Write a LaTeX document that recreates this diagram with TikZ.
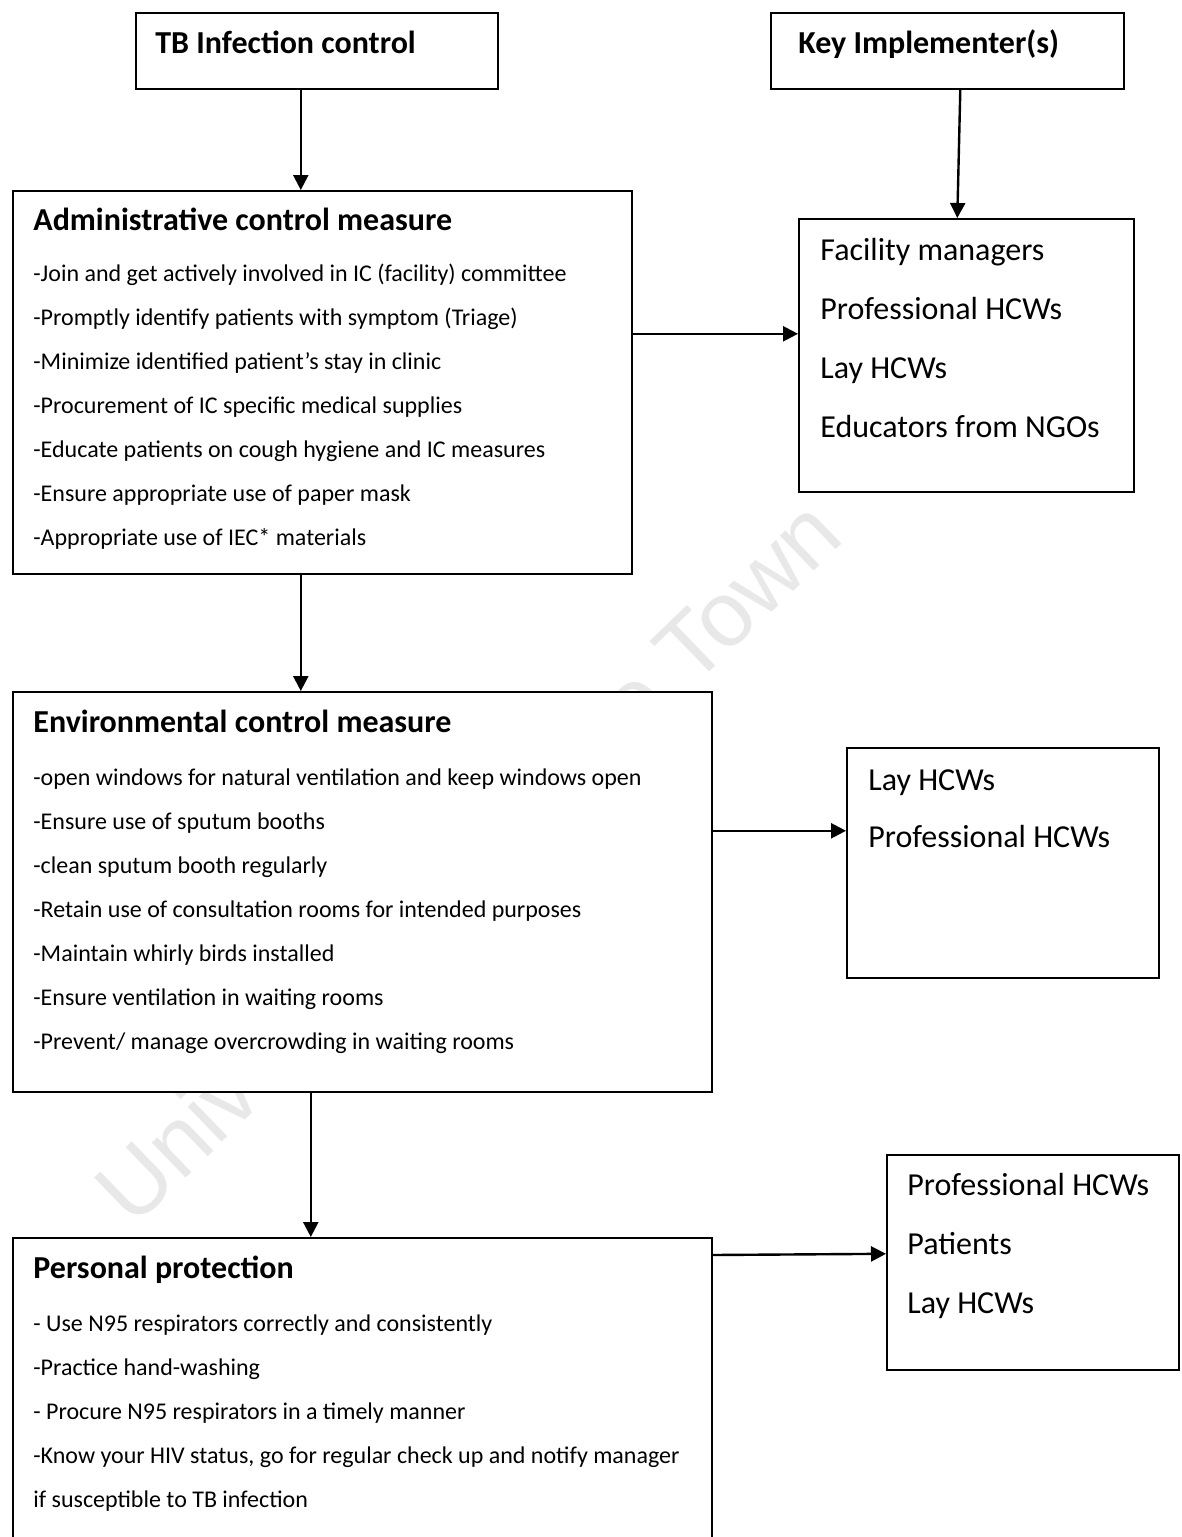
\documentclass[tikz,border=0pt]{standalone}
\usepackage{fontspec}
\setmainfont{Carlito}
\newfontfamily\wmfont{Liberation Sans}
\usetikzlibrary{arrows.meta}

\tikzset{
  box/.style={draw, fill=white, line width=0.8pt, anchor=north west, inner sep=0pt},
  arr/.style={-{Triangle[length=7.5pt,width=7.5pt]}, line width=1.2pt},
  head/.style={anchor=base west, inner sep=0pt, font=\fontsize{16}{19}\selectfont\bfseries},
  item/.style={anchor=base west, inner sep=0pt, font=\fontsize{12}{14}\selectfont},
  who/.style={anchor=base west, inner sep=0pt, font=\fontsize{16}{19}\selectfont},
  wmark/.style={text=black!9, inner sep=0pt, font=\wmfont\fontsize{46}{52}\selectfont}
}

\begin{document}
\begin{tikzpicture}[x=0.5pt, y=0.5pt]
  \clip (0,0) rectangle (1182,-1537);
  % watermark behind the boxes
  \node[wmark, anchor=base, rotate=44] (wm) at (490,-884) {University of Cape Town};

  % boxes
  \node[box, minimum width=181pt, minimum height=38pt] (tb) at (135,-12) {};
  \node[box, minimum width=176.5pt, minimum height=38pt] (ki) at (770,-12) {};
  \node[box, minimum width=309.5pt, minimum height=191.5pt] (adm) at (12,-190) {};
  \node[box, minimum width=167.5pt, minimum height=136.5pt] (fac) at (798,-218) {};
  \node[box, minimum width=349.5pt, minimum height=200pt] (env) at (12,-691) {};
  \node[box, minimum width=156pt, minimum height=115pt] (lay) at (846,-747) {};
  \node[box, minimum width=349.5pt, minimum height=170pt] (pers) at (12,-1237) {};
  \node[box, minimum width=146pt, minimum height=107.5pt] (pat) at (886,-1154) {};

  % titles
  \node[head] (tbt) at (155,-53) {TB Infection control};
  \node[head] (kit) at (798,-53) {Key Implementer(s)};

  % administrative
  \node[head] (admh) at (33,-230) {Administrative control measure};
  \foreach \t [count=\i from 0] in {
      {-Join and get actively involved in IC (facility) committee},
      {-Promptly identify patients with symptom (Triage)},
      {-Minimize identified patient’s stay in clinic},
      {-Procurement of IC specific medical supplies},
      {-Educate patients on cough hygiene and IC measures},
      {-Ensure appropriate use of paper mask},
      {-Appropriate use of IEC* materials}}
    \node[item] (adm\i) at (33,-281-44*\i) {\t};
  \foreach \t [count=\i from 0] in {Facility managers, Professional HCWs, Lay HCWs, Educators from NGOs}
    \node[who] (fac\i) at (820,-260-59*\i) {\t};

  % environmental
  \node[head] (envh) at (33,-732) {Environmental control measure};
  \foreach \t [count=\i from 0] in {
      {-open windows for natural ventilation and keep windows open},
      {-Ensure use of sputum booths},
      {-clean sputum booth regularly},
      {-Retain use of consultation rooms for intended purposes},
      {-Maintain whirly birds installed},
      {-Ensure ventilation in waiting rooms},
      {-Prevent/ manage overcrowding in waiting rooms}}
    \node[item] (env\i) at (33,-785-44*\i) {\t};
  \foreach \t [count=\i from 0] in {Lay HCWs, Professional HCWs}
    \node[who] (lay\i) at (868,-790-57*\i) {\t};

  % personal
  \node[head] (persh) at (33,-1278) {Personal protection};
  \foreach \t [count=\i from 0] in {
      {- Use N95 respirators correctly and consistently},
      {-Practice hand-washing},
      {- Procure N95 respirators in a timely manner},
      {-Know your HIV status, go for regular check up and notify manager},
      {if susceptible to TB infection}}
    \node[item] (pers\i) at (33,-1331-44*\i) {\t};
  \foreach \t [count=\i from 0] in {Professional HCWs, Patients, Lay HCWs}
    \node[who] (pat\i) at (907,-1195-59*\i) {\t};

  % connectors
  \draw[arr] ([xshift=-8pt]tb.south) -- ([xshift=-8pt]tb.south |- adm.north);
  \draw[arr] ([xshift=6.5pt]ki.south) -- ([xshift=-4.5pt]fac.north);
  \draw[arr] ([yshift=24.25pt]adm.east) -- ([yshift=24.25pt]adm.east -| fac.west);
  \draw[arr] ([xshift=-10.75pt]adm.south) -- ([xshift=-10.75pt]adm.south |- env.north);
  \draw[arr] ([yshift=30.5pt]env.east) -- ([yshift=30.5pt]env.east -| lay.west);
  \draw[arr] ([xshift=-25.75pt]env.south) -- ([xshift=-25.75pt]env.south |- pers.north);
  \draw[arr] ([yshift=-9pt]pers.north east) -- ([yshift=4.25pt]pat.west);
\end{tikzpicture}
\end{document}
